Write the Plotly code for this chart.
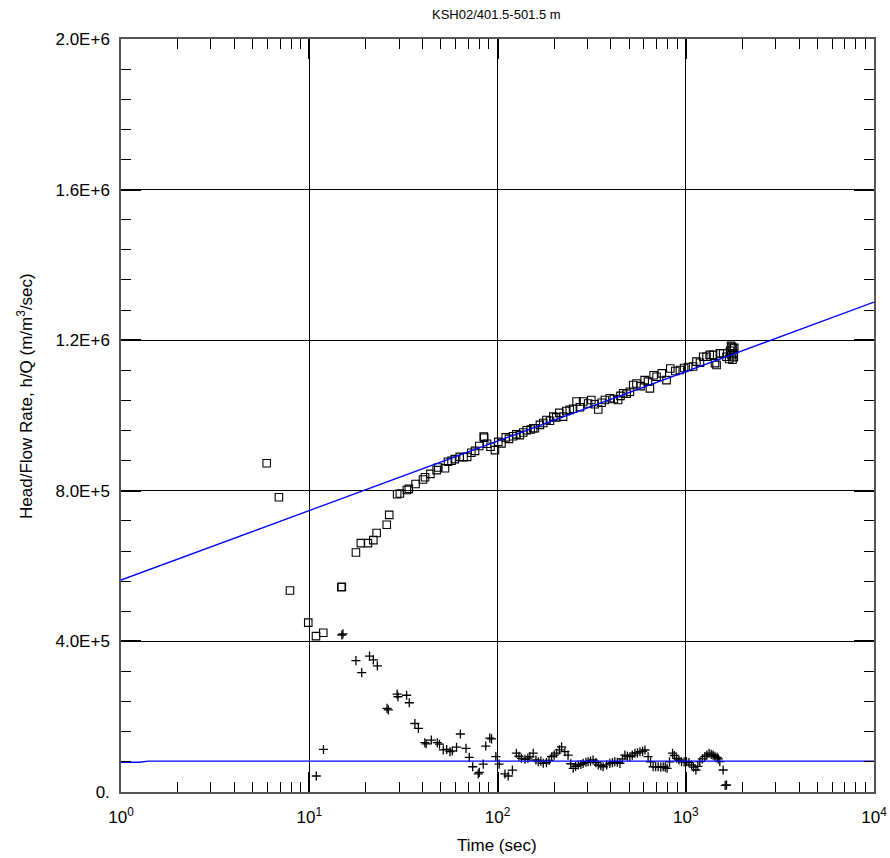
import plotly.graph_objects as go

# Pressure response h/Q (open squares) and its derivative (crosses), KSH02 401.5-501.5 m
t_hq = [5.94, 6.9, 7.9, 9.88, 10.86, 11.87, 14.8, 14.9, 17.7, 18.8, 20.5, 21.9, 22.8, 25.8, 26.6,
        29.3, 30.3, 33.0, 33.8, 36.7, 40.2, 41.2, 44.0, 47.5, 48.5, 52.6, 54.6, 57.0, 59.3, 63.0,
        66.0, 69.0, 72.6, 76.0, 80.0, 84.5, 85.0, 88.0, 91.8, 96.9, 101, 105, 110.6, 115, 121,
        126, 131.5, 137, 143, 150, 154.8, 158, 168, 175, 182, 190, 198, 205, 213, 223, 232, 242,
        252, 263, 274, 285, 303, 315, 328, 343, 357, 372, 395, 415, 437, 450, 465, 485, 505, 526,
        547, 575, 605, 630, 645, 675, 700, 746, 791, 828, 880, 931, 980, 1030, 1094, 1140, 1190,
        1238, 1289, 1340, 1397, 1430, 1458, 1517, 1580, 1646, 1700, 1720, 1740, 1750, 1760,
        1770, 1780, 1790, 1800, 1810]
hq = [873e3, 783e3, 535e3, 450e3, 414e3, 423e3, 544e3, 545e3, 636e3, 661e3, 661e3, 669e3, 688e3,
      710e3, 736e3, 791e3, 793e3, 802e3, 805e3, 818e3, 830e3, 836e3, 845e3, 855e3, 862e3, 860e3,
      877e3, 880e3, 884e3, 890e3, 889e3, 890e3, 901e3, 906e3, 919e3, 944e3, 941e3, 925e3, 917e3,
      908e3, 930e3, 926e3, 942e3, 938e3, 945e3, 950e3, 948e3, 955e3, 961e3, 963e3, 966e3, 966e3,
      975e3, 980e3, 988e3, 986e3, 997e3, 995e3, 1007e3, 997e3, 1012e3, 1015e3, 1018e3, 1037e3,
      1022e3, 1037e3, 1032e3, 1041e3, 1030e3, 1016e3, 1034e3, 1041e3, 1046e3, 1044e3, 1041e3,
      1052e3, 1059e3, 1058e3, 1063e3, 1081e3, 1085e3, 1078e3, 1094e3, 1090e3, 1072e3, 1107e3,
      1103e3, 1112e3, 1094e3, 1125e3, 1118e3, 1121e3, 1126e3, 1129e3, 1130e3, 1143e3, 1140e3,
      1156e3, 1156e3, 1161e3, 1161e3, 1139e3, 1134e3, 1165e3, 1165e3, 1156e3, 1150e3, 1172e3,
      1185e3, 1160e3, 1182e3, 1148e3, 1178e3, 1165e3, 1155e3, 1180e3]

t_der = [10.9, 11.9, 14.9, 15.1, 17.7, 19.0, 20.9, 21.9, 23.0, 25.9, 26.3, 29.3, 29.6, 32.9, 34.0,
         36.4, 38.0, 41.1, 41.8, 44.5, 47.9, 49.2, 51.5, 53.7, 55.9, 57.5, 60.6, 63.5, 68, 70.8,
         73.8, 79, 80, 84, 86.6, 91, 93, 98, 102, 109.5, 114, 120, 126, 130, 134, 140, 145, 148.6,
         154.8, 160, 164.6, 170, 175, 182, 188, 193.7, 200, 206, 213, 219, 228, 237, 245, 252.5,
         260, 268.5, 277, 285, 295, 303, 312, 322, 333, 343, 354, 364, 380, 395, 408, 420, 433,
         447, 461, 475, 490, 505, 520, 537, 554, 571, 590, 607, 631, 650, 671, 692, 714, 737, 759,
         778, 796, 820, 851, 870, 894, 920, 950, 980, 1009, 1040, 1074, 1100, 1132, 1160, 1188,
         1225, 1262, 1295, 1330, 1365, 1397, 1430, 1468, 1490, 1517, 1580, 1620, 1647]
der = [42.5e3, 113e3, 417e3, 420e3, 349e3, 317e3, 361e3, 351e3, 335e3, 222e3, 218e3, 260e3, 253e3,
       257e3, 237e3, 182e3, 169e3, 131e3, 128e3, 138e3, 131e3, 127e3, 112e3, 113e3, 107e3, 109e3,
       119e3, 154e3, 116e3, 92e3, 67e3, 48e3, 52e3, 74e3, 122e3, 143e3, 141e3, 94e3, 74e3, 48e3,
       42.5e3, 58e3, 103e3, 95e3, 89.5e3, 86.8e3, 90e3, 93.8e3, 103e3, 85e3, 80.5e3, 82e3, 76.2e3,
       78e3, 84e3, 93.8e3, 98e3, 103e3, 112e3, 120e3, 107e3, 98e3, 75e3, 63e3, 68e3, 71.7e3, 73e3,
       76e3, 79e3, 80.5e3, 82e3, 85e3, 78e3, 71.7e3, 70e3, 67e3, 72e3, 76e3, 78e3, 80.5e3, 79e3,
       76e3, 88e3, 98e3, 95e3, 93.8e3, 98e3, 103e3, 104e3, 107e3, 108e3, 111.5e3, 93.8e3, 80e3,
       67e3, 67e3, 67e3, 66e3, 67e3, 66e3, 63e3, 80e3, 103e3, 97e3, 89.5e3, 85e3, 80.5e3, 80e3,
       80.5e3, 78e3, 71.7e3, 66e3, 58.4e3, 68e3, 80.5e3, 88e3, 93.8e3, 98e3, 103e3, 100e3, 98e3,
       95e3, 92e3, 88e3, 80.5e3, 58.4e3, 17.7e3, 18.6e3]

# Fitted type curve and its derivative
t_fit = [1, 10, 100, 1000, 10000]
hq_fit = [563e3, 747.5e3, 932e3, 1116.5e3, 1301e3]
t_fit_der = [1, 1.25, 1.4, 10000]
der_fit = [79e3, 79e3, 82e3, 82e3]

# Axis ticks
y_tickvals = [0, 4e5, 8e5, 1.2e6, 1.6e6, 2.0e6]
y_ticktext = ["0.", "4.0E+5", "8.0E+5", "1.2E+6", "1.6E+6", "2.0E+6"]
x_tickvals = [1, 10, 100, 1000, 10000]
x_ticktext = ["10<sup>0</sup>", "10<sup>1</sup>", "10<sup>2</sup>", "10<sup>3</sup>", "10<sup>4</sup>"]
x_minor = [m * 10 ** d for d in range(4) for m in range(2, 10)]

FONT = "Liberation Sans, Arial, sans-serif"

fig = go.Figure()
fig.add_trace(go.Scatter(x=t_hq, y=hq, mode="markers",
                         marker=dict(symbol="square-open", size=7.5, color="black",
                                     line=dict(width=1.1, color="black"))))
fig.add_trace(go.Scatter(x=t_der, y=der, mode="markers",
                         marker=dict(symbol="cross-thin-open", size=6.5, color="black",
                                     line=dict(width=1.3, color="black"))))
fig.add_trace(go.Scatter(x=t_fit, y=hq_fit, mode="lines",
                         line=dict(color="#0000ff", width=1.3)))
fig.add_trace(go.Scatter(x=t_fit_der, y=der_fit, mode="lines",
                         line=dict(color="#0000ff", width=1.3)))

fig.update_layout(
    width=890, height=858,
    margin=dict(l=121, r=16, t=39, b=66, autoexpand=False),
    paper_bgcolor="white", plot_bgcolor="white",
    showlegend=False,
    font=dict(family=FONT, size=17, color="black"),
    xaxis=dict(type="log", range=[0, 4], tickmode="array", tickvals=x_tickvals,
               ticktext=x_ticktext, ticks="inside", ticklen=20, tickwidth=2,
               tickcolor="black", showline=True, linecolor="#555555", linewidth=1.5,
               mirror="ticks", showgrid=True, gridcolor="black", gridwidth=1,
               zeroline=False, tickfont=dict(size=17), automargin=False,
               ticklabelstandoff=9,
               minor=dict(tickmode="array", tickvals=x_minor, ticks="inside",
                          ticklen=10, tickwidth=1.2, tickcolor="black", showgrid=False)),
    yaxis=dict(range=[0, 2.0e6], tickmode="array", tickvals=y_tickvals,
               ticktext=y_ticktext, ticks="inside", ticklen=20, tickwidth=2,
               tickcolor="black", showline=True, linecolor="#555555", linewidth=1.5,
               mirror="ticks", showgrid=True, gridcolor="black", gridwidth=1,
               zeroline=False, tickfont=dict(size=17), ticklabelstandoff=6,
               automargin=False,
               minor=dict(tickmode="linear", tick0=0, dtick=8e4, ticks="inside",
                          ticklen=10, tickwidth=1.2, tickcolor="black", showgrid=False)),
    annotations=[
        dict(text="KSH02/401.5-501.5 m", xref="paper", yref="paper",
             x=0.4987, y=1.0319, showarrow=False, font=dict(size=13),
             xanchor="center", yanchor="middle"),
        dict(text="Time (sec)", xref="paper", yref="paper",
             x=0.4987, y=-0.0704, showarrow=False, font=dict(size=17),
             xanchor="center", yanchor="middle"),
        dict(text="Head/Flow Rate, h/Q (m/m<sup>3</sup>/sec)", xref="paper", yref="paper",
             x=-0.1275, y=0.526, showarrow=False, textangle=-90, font=dict(size=17),
             xanchor="center", yanchor="middle"),
    ],
)

fig.write_html("out.html")
